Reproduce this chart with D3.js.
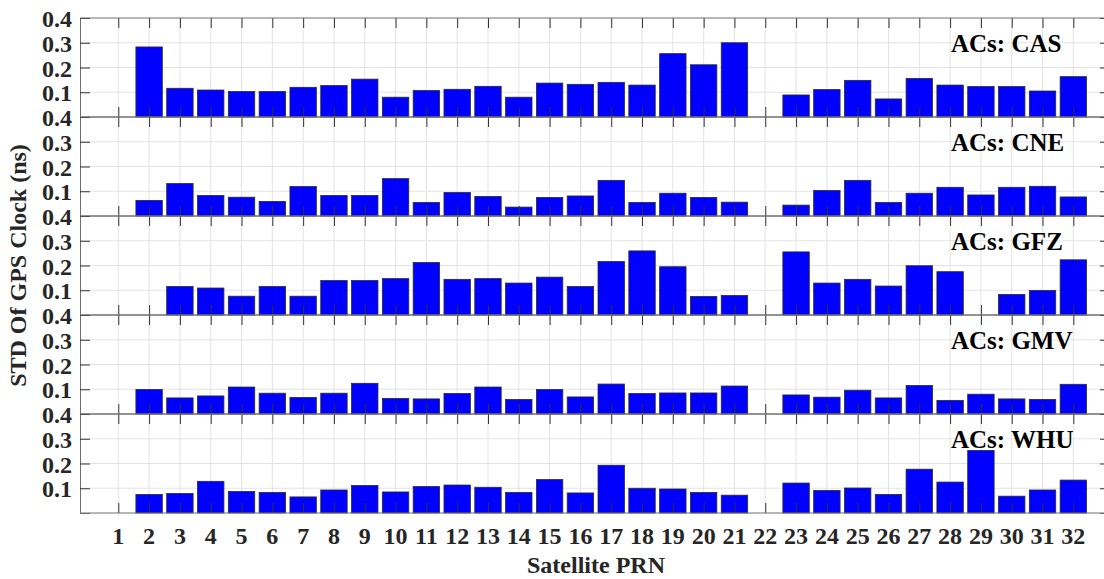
<!DOCTYPE html>
<html>
<head>
<meta charset="utf-8">
<script src="https://cdn.jsdelivr.net/npm/d3@7"></script>
<style>
  html, body { margin: 0; padding: 0; background: #fff; overflow: hidden; }
  svg { display: block; }
</style>
</head>
<body>
<svg id="chart" width="1104" height="579"></svg>
<script>
// ---- Data ----
const prns = d3.range(1, 33);               // x-axis categories 1..32
const centers = ["CAS", "CNE", "GFZ", "GMV", "WHU"];
const yTicks = [0.1, 0.2, 0.3, 0.4];
const xLabel = "Satellite PRN";
const yLabel = "STD Of GPS Clock (ns)";

// values per PRN (index 0 -> PRN 1); null = no data
const casValues = [null, 0.283, 0.116, 0.109, 0.103, 0.103, 0.120, 0.127, 0.153, 0.080,
  0.107, 0.112, 0.124, 0.080, 0.137, 0.132, 0.140, 0.129, 0.256, 0.211, 0.300,
  null, 0.089, 0.111, 0.148, 0.073, 0.156, 0.129, 0.123, 0.123, 0.105, 0.163];
const cneValues = [null, 0.063, 0.131, 0.083, 0.076, 0.059, 0.119, 0.083, 0.083, 0.151,
  0.055, 0.095, 0.079, 0.036, 0.075, 0.081, 0.144, 0.055, 0.092, 0.075, 0.056,
  null, 0.044, 0.103, 0.144, 0.055, 0.092, 0.116, 0.085, 0.116, 0.120, 0.077];
const gfzValues = [null, null, 0.115, 0.109, 0.076, 0.115, 0.076, 0.139, 0.139, 0.147,
  0.212, 0.144, 0.147, 0.129, 0.153, 0.115, 0.216, 0.259, 0.195, 0.075, 0.079,
  null, 0.255, 0.129, 0.144, 0.117, 0.199, 0.175, null, 0.083, 0.099, 0.223];
const gmvValues = [null, 0.099, 0.065, 0.073, 0.109, 0.084, 0.067, 0.084, 0.124, 0.063,
  0.061, 0.083, 0.109, 0.059, 0.099, 0.069, 0.121, 0.083, 0.085, 0.085, 0.113,
  null, 0.077, 0.068, 0.096, 0.065, 0.115, 0.055, 0.080, 0.061, 0.059, 0.120];
const whuValues = [null, 0.075, 0.079, 0.128, 0.087, 0.083, 0.065, 0.093, 0.111, 0.085,
  0.107, 0.113, 0.104, 0.083, 0.135, 0.081, 0.193, 0.100, 0.097, 0.083, 0.072,
  null, 0.121, 0.091, 0.101, 0.075, 0.177, 0.125, 0.253, 0.068, 0.093, 0.133];
const seriesValues = [casValues, cneValues, gfzValues, gmvValues, whuValues];

// ---- Layout ----
const FONT = '"Liberation Serif", "Times New Roman", Times, serif';
const svg = d3.select("#chart");
const left = 80, right = 1110, top0 = 18, panelH = 99;
const x = d3.scaleLinear().domain([-0.243, 33.19]).range([left, right]);
const step = x(2) - x(1);
const barW = step * 0.857;

const axisColor = "#6e6e6e", gridColor = "#e3e3e3", tickColor = "#333", textColor = "#262626";

function styleText(sel, size, color) {
  sel.style("font-family", FONT).style("font-weight", "bold")
    .style("font-size", size + "px").style("fill", color);
}

centers.forEach((name, i) => {
  const pTop = top0 + i * panelH, pBot = pTop + panelH;
  const y = d3.scaleLinear().domain([0, 0.4]).range([pBot, pTop]);
  const g = svg.append("g");

  // grid
  g.selectAll(".vg").data(prns).join("line")
    .attr("x1", d => x(d)).attr("x2", d => x(d))
    .attr("y1", pTop).attr("y2", pBot)
    .attr("stroke", gridColor).attr("stroke-width", 1);
  g.selectAll(".hg").data([0.1, 0.2, 0.3]).join("line")
    .attr("x1", left).attr("x2", right)
    .attr("y1", d => y(d)).attr("y2", d => y(d))
    .attr("stroke", gridColor).attr("stroke-width", 1);

  // bars
  const data = prns.map((p, k) => ({ p, v: seriesValues[i][k] })).filter(d => d.v != null);
  g.selectAll("rect").data(data).join("rect")
    .attr("x", d => x(d.p) - barW / 2)
    .attr("y", d => y(d.v))
    .attr("width", barW)
    .attr("height", d => y(0) - y(d.v))
    .attr("fill", "#0000ff")
    .attr("stroke", "#2a2a2a")
    .attr("stroke-width", 0.8);

  // axes: left/right y with inward ticks
  const yL = d3.axisLeft(y).tickValues(yTicks).tickSize(-10).tickPadding(8)
    .tickFormat(d3.format(".1f"));
  const ga = g.append("g").attr("transform", `translate(${left},0)`).call(yL);
  ga.select(".domain").attr("stroke", axisColor);
  ga.selectAll(".tick line").attr("stroke", tickColor);
  const tt = ga.selectAll(".tick text").attr("x", -8).attr("dy", "0.36em");
  styleText(tt, 24, textColor);

  const yR = d3.axisRight(y).tickValues(yTicks).tickSize(-10).tickFormat("");
  const gr = g.append("g").attr("transform", `translate(${right},0)`).call(yR);
  gr.select(".domain").attr("stroke", axisColor);
  gr.selectAll(".tick line").attr("stroke", tickColor);

  // top and bottom x ticks (inward)
  const xT = d3.axisTop(x).tickValues(prns).tickSize(-10).tickFormat("");
  const gt = g.append("g").attr("transform", `translate(0,${pTop})`).call(xT);
  gt.select(".domain").remove();
  gt.selectAll(".tick line").attr("stroke", tickColor);
  const xB = d3.axisBottom(x).tickValues(prns).tickSize(-10).tickFormat("");
  const gb = g.append("g").attr("transform", `translate(0,${pBot})`).call(xB);
  gb.select(".domain").remove();
  gb.selectAll(".tick line").attr("stroke", tickColor);

  // frame lines top/bottom
  g.append("line").attr("x1", left).attr("x2", right).attr("y1", pTop).attr("y2", pTop)
    .attr("stroke", axisColor).attr("stroke-width", 1);
  g.append("line").attr("x1", left).attr("x2", right).attr("y1", pBot).attr("y2", pBot)
    .attr("stroke", axisColor).attr("stroke-width", 1);

  // panel title
  const t = g.append("text").attr("x", 951).attr("y", pTop + 34).text("ACs: " + name);
  styleText(t, 25, "#000");

  // x tick labels at bottom panel only
  if (i === centers.length - 1) {
    const xl = g.selectAll(".xl").data(prns).join("text")
      .attr("x", d => x(d)).attr("y", pBot + 31)
      .attr("text-anchor", "middle")
      .text(d => d);
    styleText(xl, 24, textColor);
  }
});

// axis titles
styleText(svg.append("text").attr("x", 596).attr("y", 573).attr("text-anchor", "middle")
  .text(xLabel), 24, textColor);
styleText(svg.append("text").attr("transform", `translate(26,${top0 + 2.5 * panelH}) rotate(-90)`)
  .attr("text-anchor", "middle").text(yLabel), 24, textColor);
</script>
</body>
</html>
